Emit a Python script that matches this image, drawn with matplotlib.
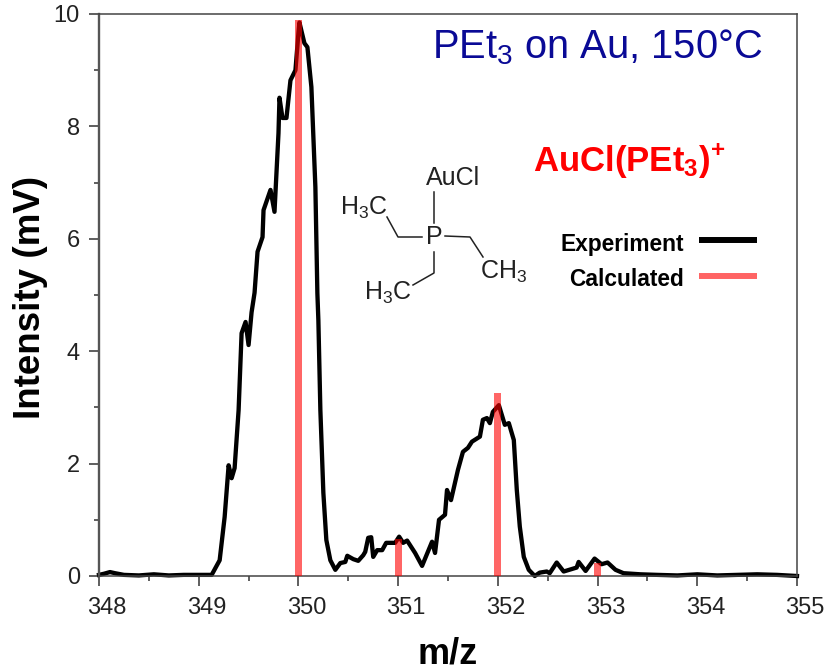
import matplotlib
matplotlib.use("Agg")
import matplotlib.pyplot as plt
from matplotlib.lines import Line2D
from matplotlib.transforms import ScaledTranslation

plt.rcParams["font.family"] = ["Liberation Sans", "DejaVu Sans"]
plt.rcParams["mathtext.fontset"] = "custom"
plt.rcParams["mathtext.rm"] = "Liberation Sans"
plt.rcParams["mathtext.bf"] = "Liberation Sans:bold"
plt.rcParams["mathtext.default"] = "regular"

mz = [348.00, 348.05, 348.11, 348.16, 348.25, 348.40, 348.55, 348.70, 348.85, 349.00, 349.13, 349.21,
      349.26, 349.30, 349.33, 349.36, 349.40, 349.43, 349.47, 349.50, 349.53, 349.56, 349.59, 349.64,
      349.65, 349.72, 349.76, 349.80, 349.81, 349.84, 349.88, 349.92, 349.97, 350.00, 350.01, 350.06,
      350.09, 350.13, 350.17, 350.19, 350.20, 350.22, 350.25, 350.28, 350.32, 350.37, 350.42, 350.47,
      350.49, 350.55, 350.60, 350.65, 350.67, 350.70, 350.73, 350.75, 350.79, 350.84, 350.88, 350.97,
      351.01, 351.05, 351.09, 351.17, 351.24, 351.34, 351.37, 351.41, 351.47, 351.49, 351.53, 351.60,
      351.65, 351.70, 351.74, 351.82, 351.85, 351.89, 351.92, 351.95, 352.01, 352.07, 352.11, 352.16,
      352.19, 352.22, 352.26, 352.31, 352.37, 352.42, 352.49, 352.52, 352.59, 352.66, 352.79, 352.81,
      352.88, 352.97, 353.04, 353.10, 353.18, 353.26, 353.43, 353.60, 353.80, 354.00, 354.20, 354.40,
      354.60, 354.80, 355.00]
intensity = [0.02, 0.04, 0.07, 0.05, 0.02, 0.01, 0.03, 0.01, 0.02, 0.02, 0.02, 0.28,
             1.05, 1.97, 1.74, 1.92, 2.95, 4.32, 4.52, 4.11, 4.69, 5.04, 5.77, 6.03,
             6.51, 6.87, 6.48, 7.88, 8.51, 8.15, 8.15, 8.82, 9.00, 9.66, 9.85, 9.48,
             9.41, 8.70, 6.92, 5.03, 4.55, 2.95, 1.48, 0.64, 0.28, 0.11, 0.23, 0.25,
             0.36, 0.30, 0.27, 0.37, 0.43, 0.68, 0.69, 0.34, 0.46, 0.46, 0.59, 0.59,
             0.70, 0.59, 0.63, 0.41, 0.18, 0.61, 0.41, 1.00, 1.09, 1.53, 1.35, 1.89,
             2.21, 2.28, 2.39, 2.48, 2.78, 2.81, 2.72, 2.92, 3.04, 2.69, 2.72, 2.42,
             1.53, 0.88, 0.34, 0.11, 0.00, 0.06, 0.08, 0.05, 0.24, 0.08, 0.15, 0.25,
             0.09, 0.31, 0.21, 0.24, 0.11, 0.05, 0.03, 0.02, 0.01, 0.03, 0.01, 0.02,
             0.03, 0.02, 0.00]

calc_mz = [350, 351, 352, 353]
calc_intensity = [9.9, 0.66, 3.25, 0.23]

x_ticks = [348, 349, 350, 351, 352, 353, 354, 355]
y_ticks = [0, 2, 4, 6, 8, 10]

fig = plt.figure(figsize=(8.28, 6.72), dpi=100)
W, H = 828.0, 672.0
ax = fig.add_axes([99 / W, 1 - 576 / H, 698 / W, 562 / H])

ax.plot(mz, intensity, color="black", lw=3.1, solid_joinstyle="round", clip_on=False, zorder=2)
ax.bar(calc_mz, calc_intensity, width=0.073, color="red", alpha=0.6, zorder=3)

ax.set_xlim(348, 355)
ax.set_ylim(0, 10)
ax.set_xticks(x_ticks)
ax.set_xticks([v + 0.5 for v in x_ticks[:-1]], minor=True)
ax.set_yticks(y_ticks)
ax.set_yticks([v + 1 for v in y_ticks[:-1]], minor=True)
ax.tick_params(axis="both", which="major", length=7.2, width=1.1, labelsize=17, color="#333333", labelcolor="#222222")
ax.tick_params(axis="both", which="minor", length=3.8, width=1.1, color="#333333")
ax.tick_params(axis="x", which="major", pad=8)
ax.tick_params(axis="y", which="major", pad=6.5)
for side in ["bottom", "top", "right"]:
    ax.spines[side].set_linewidth(1.1)
    ax.spines[side].set_color("#444444")
ax.spines["left"].set_linewidth(1.7)
ax.spines["left"].set_color("#555555")

# x tick labels sit a bit right of their ticks in the original
shift = ScaledTranslation(8 / 100, 0, fig.dpi_scale_trans)
for lab in ax.get_xticklabels():
    lab.set_transform(lab.get_transform() + shift)


def px(x, y):
    return x / W, 1 - y / H


# axis titles
fig.text(*px(31, 297), "Intensity (mV)", rotation=90, fontsize=26.5, fontweight="bold", ha="center", va="center")
fig.text(*px(448, 654), "m/z", fontsize=26, fontweight="bold", ha="center", va="center")

# annotations
fig.text(*px(597, 47), "PEt$_3$ on Au, 150°C", fontsize=28.7, color="#0a0a96", ha="center", va="center")
fig.text(*px(629, 161), r"AuCl(PEt$_3$)$^{\mathbf{+}}$", fontsize=25, color="#ff0000", fontweight="bold", ha="center", va="center")

# legend, placed by hand like the original
fig.text(*px(684, 244), "Experiment", fontsize=16.4, fontweight="bold", ha="right", va="center")
fig.text(*px(684, 279), "Calculated", fontsize=16.4, fontweight="bold", ha="right", va="center")
fig.add_artist(Line2D([699 / W, 757 / W], [1 - 240 / H] * 2, color="black", lw=4.3, solid_capstyle="butt"))
fig.add_artist(Line2D([699 / W, 757 / W], [1 - 276 / H] * 2, color="#ff6464", lw=4.3, solid_capstyle="butt"))

# structure drawing
bonds = [
    [(434, 192), (434, 223)],
    [(387, 217), (398, 237), (422, 237)],
    [(445, 236), (470, 237), (483, 257)],
    [(434, 252), (434, 273), (413, 285)],
]
for bond in bonds:
    xs = [p[0] / W for p in bond]
    ys = [1 - p[1] / H for p in bond]
    fig.add_artist(Line2D(xs, ys, color="#222222", lw=1.1))
fig.text(*px(453, 178), "AuCl", fontsize=18, color="#222222", ha="center", va="center")
fig.text(*px(364, 208), "H$_3$C", fontsize=18, color="#222222", ha="center", va="center")
fig.text(*px(434, 237), "P", fontsize=18, color="#222222", ha="center", va="center")
fig.text(*px(504, 272), "CH$_3$", fontsize=18, color="#222222", ha="center", va="center")
fig.text(*px(388, 293), "H$_3$C", fontsize=18, color="#222222", ha="center", va="center")

fig.savefig("out.png", dpi=100)
